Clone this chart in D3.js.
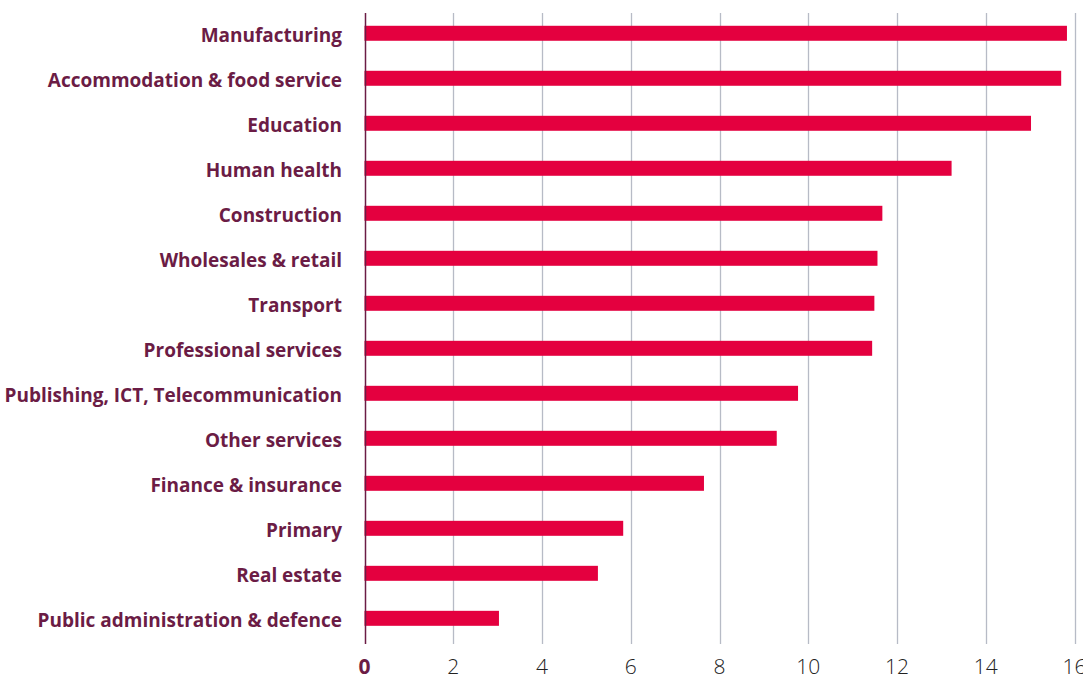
<!DOCTYPE html>
<html>
<head>
<meta charset="utf-8">
<script src="https://cdn.jsdelivr.net/npm/d3@7"></script>
<style>
  html, body { margin: 0; padding: 0; background: #ffffff; }
  svg { display: block; }
</style>
</head>
<body>
<svg id="chart" width="1083" height="680"></svg>
<script>
// Sectors, top to bottom
const sectors = [
  "Manufacturing",
  "Accommodation & food service",
  "Education",
  "Human health",
  "Construction",
  "Wholesales & retail",
  "Transport",
  "Professional services",
  "Publishing, ICT, Telecommunication",
  "Other services",
  "Finance & insurance",
  "Primary",
  "Real estate",
  "Public administration & defence"
];

// Value per sector
const values = [15.83, 15.70, 15.02, 13.23, 11.67, 11.56, 11.49, 11.44, 9.77, 9.29, 7.65, 5.83, 5.26, 3.03];

// Axis ticks
const ticks = [0, 2, 4, 6, 8, 10, 12, 14, 16];

const maroon = "#6b1c45";
const barColor = "#e4003f";
const gridColor = "#b7bbc6";

const svg = d3.select("#chart");

const x = d3.scaleLinear().domain([0, 16]).range([364.5, 1074.5]);
const y = d3.scaleBand().domain(sectors).range([10.8, 640.8]).paddingInner(0.667).paddingOuter(0.333);

const plotTop = 13, plotBottom = 644;

// vertical gridlines
svg.append("g")
  .selectAll("line")
  .data(ticks.filter(t => t > 0))
  .join("line")
  .attr("x1", d => Math.round(x(d)) + 0.5)
  .attr("x2", d => Math.round(x(d)) + 0.5)
  .attr("y1", plotTop)
  .attr("y2", plotBottom)
  .attr("stroke", gridColor)
  .attr("stroke-width", 1.3);

// bars
svg.append("g")
  .selectAll("rect")
  .data(sectors)
  .join("rect")
  .attr("x", x(0))
  .attr("y", d => y(d))
  .attr("width", (d, i) => x(values[i]) - x(0))
  .attr("height", y.bandwidth())
  .attr("fill", barColor);

// baseline axis
svg.append("line")
  .attr("x1", Math.round(x(0)) + 0.5)
  .attr("x2", Math.round(x(0)) + 0.5)
  .attr("y1", plotTop)
  .attr("y2", plotBottom)
  .attr("stroke", maroon)
  .attr("stroke-width", 1.5);

// category labels, baseline sitting on the bar's lower edge
svg.append("g")
  .selectAll("text")
  .data(sectors)
  .join("text")
  .attr("x", 342)
  .attr("y", d => y(d) + y.bandwidth() + 1)
  .attr("text-anchor", "end")
  .attr("font-family", "'Open Sans', sans-serif")
  .attr("font-weight", 700)
  .attr("font-size", 19)
  .attr("fill", maroon)
  .text(d => d);

// tick labels
svg.append("g")
  .selectAll("text")
  .data(ticks)
  .join("text")
  .attr("x", d => x(d))
  .attr("y", 674)
  .attr("text-anchor", "middle")
  .attr("font-family", "'Open Sans', sans-serif")
  .attr("font-weight", d => d === 0 ? 700 : 300)
  .attr("font-size", 21)
  .attr("fill", d => d === 0 ? maroon : "#222222")
  .text(d => d);
</script>
</body>
</html>
